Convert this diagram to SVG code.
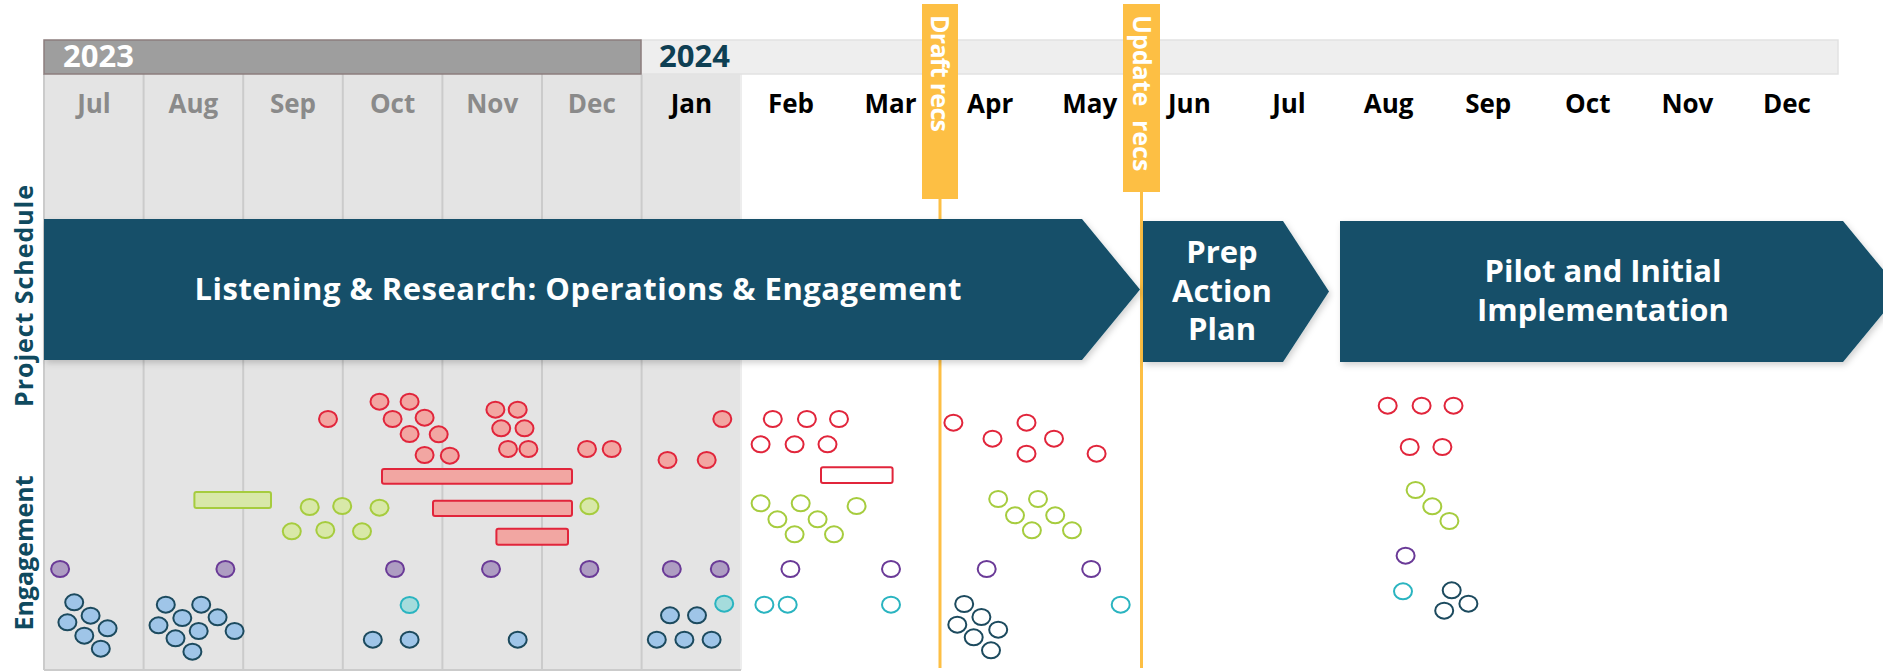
<svg xmlns="http://www.w3.org/2000/svg" width="1883" height="671" viewBox="0 0 1883 671">
<defs>
<filter id="sh" x="-5%" y="-10%" width="110%" height="130%"><feDropShadow dx="2" dy="3" stdDeviation="3" flood-color="#000" flood-opacity="0.18"/></filter>
</defs>
<style>
text{font-family:"Open Sans","Noto Sans","Liberation Sans",sans-serif;font-weight:700}
.mg{font-size:26px;fill:#8a8a8a;text-anchor:middle}
.mb{font-size:26px;fill:#000;text-anchor:middle}
.grid{stroke:#cbcbcb;stroke-width:2}
.arr{fill:#124f69;filter:url(#sh)}
.at{font-size:31px;fill:#fff;text-anchor:middle}
.ms{fill:#fdbf44}
.ml{stroke:#fdbf44;stroke-width:3}
.mt{font-size:25px;fill:#fff}
.side{font-size:25px;fill:#0f4a5f;text-anchor:middle}
ellipse{stroke-width:2}
.rf{fill:#f2a6a2;stroke:#e1253b}
.ro{fill:#fff;stroke:#e1253b}
.gf{fill:#d8e8a8;stroke:#a6cc3e}
.go{fill:#fff;stroke:#a6cc3e}
.pf{fill:#ae9dc2;stroke:#6a3a97}
.po{fill:#fff;stroke:#6a3a97}
.tf{fill:#a5dcdc;stroke:#2ab4c0}
.to{fill:#fff;stroke:#2ab4c0}
.bf{fill:#9fc5e8;stroke:#1c4a5e}
.bo{fill:#fff;stroke:#1c4a5e}
</style>
<rect width="1883" height="671" fill="#fff"/>
<g id="background">
<rect x="44" y="74" width="697" height="596" fill="#e4e4e4"/>
<line class="grid" x1="143.6" y1="74" x2="143.6" y2="670"/>
<line class="grid" x1="243.2" y1="74" x2="243.2" y2="670"/>
<line class="grid" x1="342.8" y1="74" x2="342.8" y2="670"/>
<line class="grid" x1="442.4" y1="74" x2="442.4" y2="670"/>
<line class="grid" x1="542" y1="74" x2="542" y2="670"/>
<line class="grid" x1="641.6" y1="74" x2="641.6" y2="670"/>
<line x1="741" y1="74" x2="741" y2="670" stroke="#ededed" stroke-width="2"/>
<line x1="44" y1="74" x2="44" y2="670" stroke="#cbcbcb" stroke-width="2"/>
<line x1="44" y1="670" x2="741" y2="670" stroke="#cbcbcb" stroke-width="2"/>
</g>
<g id="years">
<rect x="641" y="40" width="1197" height="34" fill="#eeeeee" stroke="#e2e2e2" stroke-width="1.5"/>
<rect x="44" y="40" width="597" height="34" fill="#9e9e9e" stroke="#8c7d7d" stroke-width="1.5"/>
<text x="63" y="67" font-size="31" fill="#fff">2023</text>
<text x="659" y="67" font-size="31" fill="#0e3f53">2024</text>
</g>
<g id="months">
<text class="mg" x="94" y="113">Jul</text>
<text class="mg" x="193.4" y="113">Aug</text>
<text class="mg" x="293" y="113">Sep</text>
<text class="mg" x="392.6" y="113">Oct</text>
<text class="mg" x="492.2" y="113">Nov</text>
<text class="mg" x="591.8" y="113">Dec</text>
<text class="mb" x="691.4" y="113">Jan</text>
<text class="mb" x="791" y="113">Feb</text>
<text class="mb" x="890.6" y="113">Mar</text>
<text class="mb" x="990.2" y="113">Apr</text>
<text class="mb" x="1089.8" y="113">May</text>
<text class="mb" x="1189.4" y="113">Jun</text>
<text class="mb" x="1289" y="113">Jul</text>
<text class="mb" x="1388.6" y="113">Aug</text>
<text class="mb" x="1488.2" y="113">Sep</text>
<text class="mb" x="1587.8" y="113">Oct</text>
<text class="mb" x="1687.4" y="113">Nov</text>
<text class="mb" x="1787" y="113">Dec</text>
</g>
<g id="side-labels">
<text class="side" transform="translate(33,296) rotate(-90)" textLength="222">Project Schedule</text>
<text class="side" transform="translate(33,553) rotate(-90)">Engagement</text>
</g>
<g id="connectors">
<line class="ml" x1="940" y1="199" x2="940" y2="668"/>
<line class="ml" x1="1141.5" y1="192" x2="1141.5" y2="668"/>
</g>
<g id="milestone-draft">
<rect class="ms" x="922" y="4" width="36" height="195"/>
<text class="mt" transform="translate(931,15) rotate(90)" textLength="117">Draft recs</text>
</g>
<g id="milestone-update">
<rect class="ms" x="1123" y="4" width="37" height="188"/>
<text class="mt" transform="translate(1132.5,15) rotate(90)">Update<tspan x="105">recs</tspan></text>
</g>
<g id="phase-listening">
<polygon class="arr" points="44,219 1082,219 1140,289.5 1082,360 44,360"/>
<text class="at" x="578" y="300" textLength="767">Listening &amp; Research: Operations &amp; Engagement</text>
</g>
<g id="phase-prep">
<polygon class="arr" points="1143,221 1283,221 1329,291.5 1283,362 1143,362"/>
<text class="at" x="1222" y="263">Prep</text>
<text class="at" x="1222" y="302">Action</text>
<text class="at" x="1222" y="340">Plan</text>
</g>
<g id="phase-pilot">
<polygon class="arr" points="1340,221 1843,221 1901,291.5 1843,362 1340,362"/>
<text class="at" x="1603" y="282">Pilot and Initial</text>
<text class="at" x="1603" y="321">Implementation</text>
</g>
<g id="engagement-red">
<ellipse class="rf" cx="328" cy="419" rx="9" ry="8"/>
<ellipse class="rf" cx="379.5" cy="401.7" rx="9" ry="8"/>
<ellipse class="rf" cx="409.6" cy="401.7" rx="9" ry="8"/>
<ellipse class="rf" cx="392.6" cy="419" rx="9" ry="8"/>
<ellipse class="rf" cx="424.6" cy="417.7" rx="9" ry="8"/>
<ellipse class="rf" cx="409.6" cy="434" rx="9" ry="8"/>
<ellipse class="rf" cx="438.7" cy="434.3" rx="9" ry="8"/>
<ellipse class="rf" cx="424.6" cy="455" rx="9" ry="8"/>
<ellipse class="rf" cx="449.8" cy="455.7" rx="9" ry="8"/>
<ellipse class="rf" cx="495.4" cy="409.7" rx="9" ry="8"/>
<ellipse class="rf" cx="517.7" cy="409.7" rx="9" ry="8"/>
<ellipse class="rf" cx="501.2" cy="428.3" rx="9" ry="8"/>
<ellipse class="rf" cx="524.5" cy="428.3" rx="9" ry="8"/>
<ellipse class="rf" cx="508" cy="449" rx="9" ry="8"/>
<ellipse class="rf" cx="528.4" cy="449" rx="9" ry="8"/>
<ellipse class="rf" cx="587" cy="449" rx="9" ry="8"/>
<ellipse class="rf" cx="611.7" cy="449" rx="9" ry="8"/>
<ellipse class="rf" cx="667.5" cy="460" rx="9" ry="8"/>
<ellipse class="rf" cx="706.7" cy="460" rx="9" ry="8"/>
<ellipse class="rf" cx="722.3" cy="419" rx="9" ry="8"/>
<rect class="rf" x="382" y="469" width="190" height="14.7" rx="2" stroke-width="2"/>
<rect class="rf" x="433" y="500.7" width="139" height="15.3" rx="2" stroke-width="2"/>
<rect class="rf" x="496.4" y="528.7" width="71.6" height="16" rx="2" stroke-width="2"/>
<ellipse class="ro" cx="772.8" cy="419" rx="9" ry="8"/>
<ellipse class="ro" cx="806.9" cy="419" rx="9" ry="8"/>
<ellipse class="ro" cx="839" cy="419" rx="9" ry="8"/>
<ellipse class="ro" cx="760.6" cy="444.3" rx="9" ry="8"/>
<ellipse class="ro" cx="794.6" cy="444.3" rx="9" ry="8"/>
<ellipse class="ro" cx="827.5" cy="444.3" rx="9" ry="8"/>
<rect class="ro" x="821" y="467.3" width="71.6" height="15.7" rx="2" stroke-width="2"/>
<ellipse class="ro" cx="953.4" cy="422.7" rx="9" ry="8"/>
<ellipse class="ro" cx="1026.5" cy="422.7" rx="9" ry="8"/>
<ellipse class="ro" cx="992.5" cy="438.7" rx="9" ry="8"/>
<ellipse class="ro" cx="1054" cy="438.7" rx="9" ry="8"/>
<ellipse class="ro" cx="1026.5" cy="453.7" rx="9" ry="8"/>
<ellipse class="ro" cx="1096.6" cy="453.7" rx="9" ry="8"/>
<ellipse class="ro" cx="1387.7" cy="405.7" rx="9" ry="8"/>
<ellipse class="ro" cx="1421.6" cy="405.7" rx="9" ry="8"/>
<ellipse class="ro" cx="1453.5" cy="405.7" rx="9" ry="8"/>
<ellipse class="ro" cx="1409.7" cy="447" rx="9" ry="8"/>
<ellipse class="ro" cx="1442.4" cy="447" rx="9" ry="8"/>
</g>
<g id="engagement-green">
<rect class="gf" x="194.4" y="492" width="76.6" height="16" rx="2" stroke-width="2"/>
<ellipse class="gf" cx="309.7" cy="507" rx="9" ry="8"/>
<ellipse class="gf" cx="342.2" cy="506" rx="9" ry="8"/>
<ellipse class="gf" cx="379.5" cy="507.7" rx="9" ry="8"/>
<ellipse class="gf" cx="291.8" cy="531.3" rx="9" ry="8"/>
<ellipse class="gf" cx="325.3" cy="530" rx="9" ry="8"/>
<ellipse class="gf" cx="362" cy="531.3" rx="9" ry="8"/>
<ellipse class="gf" cx="589.4" cy="506.3" rx="9" ry="8"/>
<ellipse class="go" cx="760.6" cy="503.3" rx="9" ry="8"/>
<ellipse class="go" cx="800.7" cy="503.3" rx="9" ry="8"/>
<ellipse class="go" cx="856.6" cy="506" rx="9" ry="8"/>
<ellipse class="go" cx="777.4" cy="519.3" rx="9" ry="8"/>
<ellipse class="go" cx="817.6" cy="519.3" rx="9" ry="8"/>
<ellipse class="go" cx="794.6" cy="534.3" rx="9" ry="8"/>
<ellipse class="go" cx="834" cy="534.3" rx="9" ry="8"/>
<ellipse class="go" cx="998.2" cy="499" rx="9" ry="8"/>
<ellipse class="go" cx="1038" cy="499" rx="9" ry="8"/>
<ellipse class="go" cx="1015" cy="515.3" rx="9" ry="8"/>
<ellipse class="go" cx="1055.2" cy="515.3" rx="9" ry="8"/>
<ellipse class="go" cx="1031.9" cy="530.3" rx="9" ry="8"/>
<ellipse class="go" cx="1072" cy="530.3" rx="9" ry="8"/>
<ellipse class="go" cx="1415.6" cy="490" rx="9" ry="8"/>
<ellipse class="go" cx="1432.3" cy="506.3" rx="9" ry="8"/>
<ellipse class="go" cx="1449.4" cy="521" rx="9" ry="8"/>
</g>
<g id="engagement-purple">
<ellipse class="pf" cx="60.1" cy="569" rx="9" ry="8"/>
<ellipse class="pf" cx="225.4" cy="569" rx="9" ry="8"/>
<ellipse class="pf" cx="395" cy="569" rx="9" ry="8"/>
<ellipse class="pf" cx="491" cy="569" rx="9" ry="8"/>
<ellipse class="pf" cx="589.4" cy="569" rx="9" ry="8"/>
<ellipse class="pf" cx="671.8" cy="569" rx="9" ry="8"/>
<ellipse class="pf" cx="719.8" cy="569" rx="9" ry="8"/>
<ellipse class="po" cx="790.4" cy="569" rx="9" ry="8"/>
<ellipse class="po" cx="891" cy="569" rx="9" ry="8"/>
<ellipse class="po" cx="986.7" cy="569" rx="9" ry="8"/>
<ellipse class="po" cx="1091.2" cy="569" rx="9" ry="8"/>
<ellipse class="po" cx="1405.6" cy="555.7" rx="9" ry="8"/>
</g>
<g id="engagement-teal">
<ellipse class="tf" cx="409.6" cy="605" rx="9" ry="8"/>
<ellipse class="tf" cx="724.2" cy="603.7" rx="9" ry="8"/>
<ellipse class="to" cx="764.4" cy="604.7" rx="9" ry="8"/>
<ellipse class="to" cx="787.7" cy="604.7" rx="9" ry="8"/>
<ellipse class="to" cx="891" cy="604.7" rx="9" ry="8"/>
<ellipse class="to" cx="1120.7" cy="604.7" rx="9" ry="8"/>
<ellipse class="to" cx="1403" cy="591.3" rx="9" ry="8"/>
</g>
<g id="engagement-blue">
<ellipse class="bf" cx="74.2" cy="602.3" rx="9" ry="8"/>
<ellipse class="bf" cx="90.6" cy="615.7" rx="9" ry="8"/>
<ellipse class="bf" cx="67.4" cy="622.3" rx="9" ry="8"/>
<ellipse class="bf" cx="107.6" cy="628.3" rx="9" ry="8"/>
<ellipse class="bf" cx="84.3" cy="635.7" rx="9" ry="8"/>
<ellipse class="bf" cx="100.8" cy="648.7" rx="9" ry="8"/>
<ellipse class="bf" cx="165.8" cy="604.7" rx="9" ry="8"/>
<ellipse class="bf" cx="201.2" cy="604.7" rx="9" ry="8"/>
<ellipse class="bf" cx="182.3" cy="618" rx="9" ry="8"/>
<ellipse class="bf" cx="217.6" cy="617.3" rx="9" ry="8"/>
<ellipse class="bf" cx="158.5" cy="625.3" rx="9" ry="8"/>
<ellipse class="bf" cx="198.7" cy="631" rx="9" ry="8"/>
<ellipse class="bf" cx="234.6" cy="631" rx="9" ry="8"/>
<ellipse class="bf" cx="175.5" cy="638.3" rx="9" ry="8"/>
<ellipse class="bf" cx="192.4" cy="651.7" rx="9" ry="8"/>
<ellipse class="bf" cx="372.8" cy="639.7" rx="9" ry="8"/>
<ellipse class="bf" cx="409.6" cy="639.7" rx="9" ry="8"/>
<ellipse class="bf" cx="517.7" cy="639.7" rx="9" ry="8"/>
<ellipse class="bf" cx="670" cy="615.3" rx="9" ry="8"/>
<ellipse class="bf" cx="697" cy="615.3" rx="9" ry="8"/>
<ellipse class="bf" cx="656.8" cy="639.7" rx="9" ry="8"/>
<ellipse class="bf" cx="684.4" cy="639.7" rx="9" ry="8"/>
<ellipse class="bf" cx="711.6" cy="639.7" rx="9" ry="8"/>
<ellipse class="bo" cx="964.2" cy="604" rx="9" ry="8"/>
<ellipse class="bo" cx="981.4" cy="617" rx="9" ry="8"/>
<ellipse class="bo" cx="957.3" cy="624.7" rx="9" ry="8"/>
<ellipse class="bo" cx="998.2" cy="629.7" rx="9" ry="8"/>
<ellipse class="bo" cx="973.7" cy="637.3" rx="9" ry="8"/>
<ellipse class="bo" cx="991" cy="650.3" rx="9" ry="8"/>
<ellipse class="bo" cx="1451.7" cy="590.3" rx="9" ry="8"/>
<ellipse class="bo" cx="1468.4" cy="603.7" rx="9" ry="8"/>
<ellipse class="bo" cx="1444.2" cy="610.7" rx="9" ry="8"/>
</g>
</svg>
